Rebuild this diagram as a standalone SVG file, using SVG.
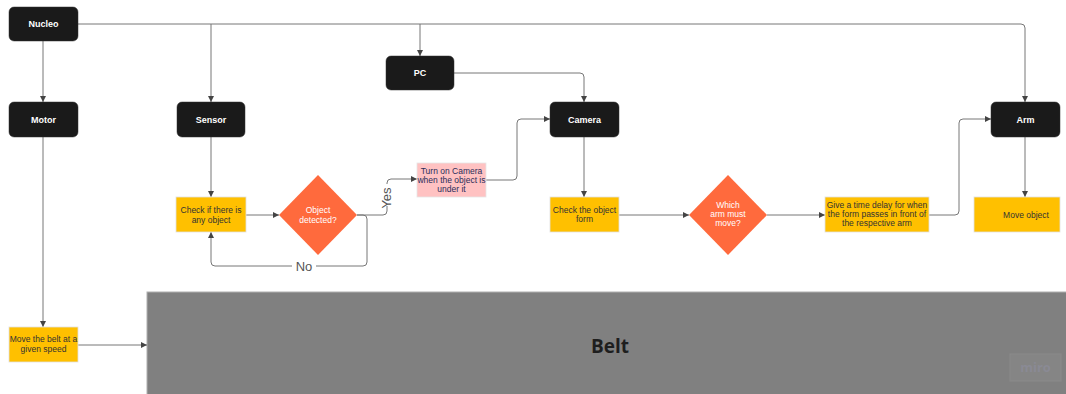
<svg xmlns="http://www.w3.org/2000/svg" width="1066" height="394" viewBox="0 0 1066 394">
<defs>
<marker id="ah" viewBox="0 0 6 6" refX="6" refY="3" markerWidth="6" markerHeight="6" orient="auto" markerUnits="userSpaceOnUse">
<path d="M0,0 L6,3 L0,6 z" fill="#444"/>
</marker>
<style>
.dark rect{fill:#1a1a1a;stroke:#333;stroke-width:0.5}
.dark text{fill:#fff;font-family:"Liberation Sans",Arial,sans-serif;font-size:9px;font-weight:bold;text-anchor:middle}
.yel rect{fill:#FFC000;stroke:#e0e0e0;stroke-width:0.8}
.yel text{fill:#333;font-family:"Liberation Sans",Arial,sans-serif;font-size:8.5px;text-anchor:middle}
.dia path{fill:#FF6A3D}
.dia text{fill:#fff;font-family:"Liberation Sans",Arial,sans-serif;font-size:8.5px;text-anchor:middle}
.pink rect{fill:#FFC2C2;stroke:#e6e6e6;stroke-width:0.8}
.pink text{fill:#2a2d5a;font-family:"Liberation Sans",Arial,sans-serif;font-size:8.5px;text-anchor:middle}
.conn path{fill:none;stroke:#777;stroke-width:1}
.lbl{fill:#555;font-family:"Liberation Sans",Arial,sans-serif;font-size:13px;text-anchor:middle}
</style>
</defs>
<rect width="1066" height="394" fill="#fff"/>

<g id="belt">
<rect x="147" y="292" width="920" height="104" fill="#808080" stroke="#b0b0b0" stroke-width="1"/>
<text x="610" y="353" font-family="'Open Sans','DejaVu Sans',sans-serif" font-size="19" font-weight="bold" fill="#1e1e1e" text-anchor="middle">Belt</text>
<rect x="1010" y="354" width="51" height="27" fill="#858585" stroke="#8a8a8a" stroke-width="1"/>
<text x="1035.5" y="372" font-family="'Open Sans',sans-serif" font-size="13" font-weight="bold" fill="#8a8a94" text-anchor="middle">miro</text>
</g>

<g id="connectors" class="conn">
<path d="M78,24 H1021 Q1025,24 1025,28 V102" marker-end="url(#ah)"/>
<path d="M43,41 V102" marker-end="url(#ah)"/>
<path d="M211,24 V102" marker-end="url(#ah)"/>
<path d="M420,24 V56" marker-end="url(#ah)"/>
<path d="M454,73 H580 Q584,73 584,77 V102" marker-end="url(#ah)"/>
<path d="M43,137 V327" marker-end="url(#ah)"/>
<path d="M78,345 H147" marker-end="url(#ah)"/>
<path d="M211,137 V197" marker-end="url(#ah)"/>
<path d="M246,215 H279" marker-end="url(#ah)"/>
<path d="M357,215 H383 Q387,215 387,211 V183 Q387,179 391,179 H417" marker-end="url(#ah)"/>
<path d="M357,215 H363 Q367,215 367,219 V262 Q367,266 363,266 H215 Q211,266 211,262 V232" marker-end="url(#ah)"/>
<path d="M486,180 H513 Q517,180 517,176 V123 Q517,119 521,119 H550" marker-end="url(#ah)"/>
<path d="M584,137 V197" marker-end="url(#ah)"/>
<path d="M619,215 H689" marker-end="url(#ah)"/>
<path d="M767,215 H825" marker-end="url(#ah)"/>
<path d="M929,215 H955 Q959,215 959,211 V123 Q959,119 963,119 H991" marker-end="url(#ah)"/>
<path d="M1025,137 V197" marker-end="url(#ah)"/>
</g>
<rect x="372" y="184" width="30" height="22" fill="#fff"/>
<text class="lbl" transform="translate(391,198) rotate(-90)" x="0" y="0">Yes</text>
<rect x="292" y="259" width="24" height="14" fill="#fff"/>
<text class="lbl" x="304" y="271">No</text>

<g id="nucleo" class="dark"><rect x="9" y="7" width="69" height="34" rx="5"/><text x="43.5" y="27">Nucleo</text></g>
<g id="motor" class="dark"><rect x="9" y="102" width="69" height="35" rx="5"/><text x="43.5" y="123">Motor</text></g>
<g id="sensor" class="dark"><rect x="177" y="102" width="68" height="35" rx="5"/><text x="211" y="123">Sensor</text></g>
<g id="pc" class="dark"><rect x="386" y="56" width="68" height="34" rx="5"/><text x="420" y="76">PC</text></g>
<g id="camera" class="dark"><rect x="550" y="102" width="69" height="35" rx="5"/><text x="584.5" y="123">Camera</text></g>
<g id="arm" class="dark"><rect x="991" y="102" width="69" height="35" rx="5"/><text x="1025.5" y="123">Arm</text></g>

<g id="check-object" class="yel"><rect x="176" y="197" width="70" height="35"/><text x="211" y="213">Check if there is</text><text x="211" y="223">any object</text></g>
<g id="object-detected" class="dia"><path d="M318,175 L357,215 L318,255 L279,215 z"/><text x="318" y="213">Object</text><text x="318" y="223">detected?</text></g>
<g id="turn-on-camera" class="pink"><rect x="417" y="163" width="69" height="34"/><text x="451.5" y="174">Turn on Camera</text><text x="451.5" y="183">when the object is</text><text x="451.5" y="192">under it</text></g>
<g id="check-form" class="yel"><rect x="550" y="197" width="69" height="35"/><text x="584.5" y="213">Check the object</text><text x="584.5" y="222">form</text></g>
<g id="which-arm" class="dia"><path d="M728,175 L767,215 L728,255 L689,215 z"/><text x="728" y="208">Which</text><text x="728" y="217">arm must</text><text x="728" y="226">move?</text></g>
<g id="time-delay" class="yel"><rect x="825" y="197" width="104" height="35"/><text x="877" y="208">Give a time delay for when</text><text x="877" y="217">the form passes in front of</text><text x="877" y="226">the respective arm</text></g>
<g id="move-object" class="yel"><rect x="974" y="197" width="86" height="35"/><text x="1026" y="218">Move object</text></g>
<g id="move-belt" class="yel"><rect x="9" y="327" width="69" height="35"/><text x="43.5" y="342">Move the belt at a</text><text x="43.5" y="352">given speed</text></g>
</svg>
